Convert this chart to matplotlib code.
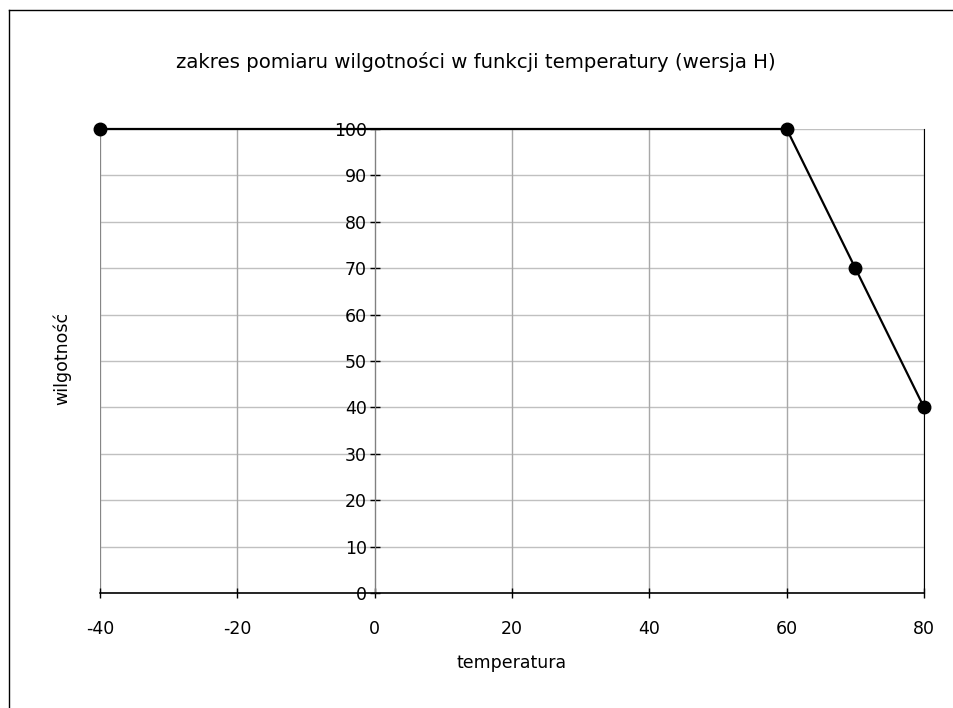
import matplotlib
matplotlib.use("Agg")
import matplotlib.pyplot as plt
from matplotlib.lines import Line2D

temperatura = [-40, 60, 70, 80]
wilgotnosc = [100, 100, 70, 40]
x_ticks = [-40, -20, 0, 20, 40, 60, 80]
y_ticks = [0, 10, 20, 30, 40, 50, 60, 70, 80, 90, 100]

fig = plt.figure(figsize=(9.54, 7.08), dpi=100)
ax = fig.add_axes([100/954, 1-593/708, 824/954, 464/708])

ax.set_xlim(-40, 80)
ax.set_ylim(0, 100)
ax.set_xticks(x_ticks)
ax.set_yticks(y_ticks)
ax.set_xticklabels([str(v) for v in x_ticks])
ax.set_yticklabels([str(v) for v in y_ticks])

# grid
for v in y_ticks:
    ax.axhline(v, color='#c0c0c0', lw=1.0, zorder=0)
for v in x_ticks:
    ax.axvline(v, color='#a8a8a8', lw=1.0, zorder=0)
ax.axvline(-40, color='#808080', lw=1.2, zorder=0)

ax.spines['left'].set_position(('data', 0))
ax.spines['left'].set_color('#808080')
ax.spines['top'].set_visible(False)
ax.spines['right'].set_color('black')
ax.spines['bottom'].set_color('black')
ax.spines['bottom'].set_linewidth(1.2)

ax.tick_params(axis='y', direction='inout', length=7, width=1, pad=2, labelsize=12.5, colors='black')
ax.tick_params(axis='x', direction='inout', length=7, width=1, pad=16, labelsize=12.5, colors='black')

ax.plot(temperatura, wilgotnosc, color='black', lw=1.6, marker='o', markersize=9,
        markerfacecolor='black', markeredgecolor='black', zorder=5, clip_on=False)

fig.text(476/954, 1-62/708, 'zakres pomiaru wilgotności w funkcji temperatury (wersja H)',
         ha='center', va='center', fontsize=14.2)
fig.text(512/954, 1-663/708, 'temperatura', ha='center', va='center', fontsize=12.5)
fig.text(62/954, 1-358/708, 'wilgotność', ha='center', va='center', fontsize=12.5, rotation=90)

# outer border
fig.add_artist(Line2D([9/954, 9/954], [0, 1-10/708], transform=fig.transFigure, color='black', lw=1))
fig.add_artist(Line2D([9/954, 1], [1-10/708, 1-10/708], transform=fig.transFigure, color='black', lw=1))

fig.savefig('out.png', dpi=100)
